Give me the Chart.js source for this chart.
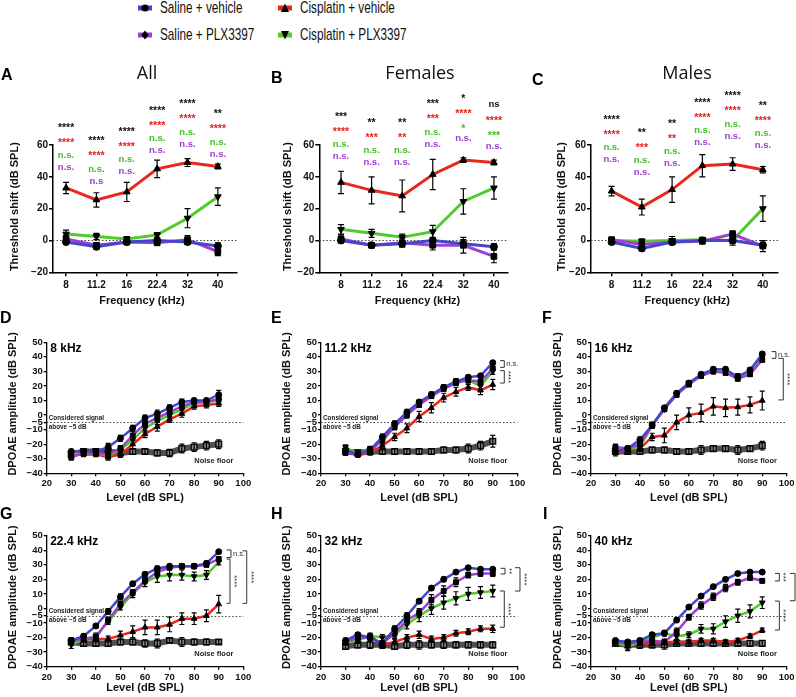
<!DOCTYPE html>
<html lang="en">
<head>
<meta charset="UTF-8">
<title>Threshold shift and DPOAE amplitude</title>
<script src="https://cdn.jsdelivr.net/npm/chart.js"></script>
<style>
  body { margin: 0; background: #fff; width: 796px; height: 697px; position: relative; overflow: hidden;
         font-family: "Liberation Sans", Arial, sans-serif; }
  canvas { position: absolute; }
  .lg-mark { position: absolute; width: 16px; height: 16px; }
  .lg-text { position: absolute; font-size: 17px; line-height: 20px; white-space: nowrap; color: #111;
             transform: scaleX(0.69); transform-origin: left center; }
</style>
</head>
<body>
<svg class="lg-mark" style="left:137px; top:0px" viewBox="0 0 16 16"><rect x="1" y="5.5" width="14" height="5" fill="#4348c8"/><circle cx="8" cy="8" r="3.6" fill="#000"/></svg>
<div class="lg-text" style="left:160px; top:-2px">Saline + vehicle</div>
<svg class="lg-mark" style="left:137px; top:27px" viewBox="0 0 16 16"><rect x="1" y="5.5" width="14" height="5" fill="#a03fd4"/><polygon points="8,3.5 11.6,8 8,12.5 4.4,8" fill="#000"/></svg>
<div class="lg-text" style="left:160px; top:25px">Saline + PLX3397</div>
<svg class="lg-mark" style="left:277px; top:0px" viewBox="0 0 16 16"><rect x="1" y="5.5" width="14" height="5" fill="#e8281c"/><polygon points="8,3.5 12,12 4,12" fill="#000"/></svg>
<div class="lg-text" style="left:300px; top:-2px">Cisplatin + vehicle</div>
<svg class="lg-mark" style="left:277px; top:27px" viewBox="0 0 16 16"><rect x="1" y="5.5" width="14" height="5" fill="#4fcc2c"/><polygon points="4,4 12,4 8,12.5" fill="#000"/></svg>
<div class="lg-text" style="left:300px; top:25px">Cisplatin + PLX3397</div>

<script>
// ---------- threshold shift (A-C) ----------
const freqLabels = ['8', '11.2', '16', '22.4', '32', '40'];

const allSalVeh    = [-1, -4, -1, 0, -1, -3.5];
const allSalVehErr = [1.5, 1.5, 1.5, 1.5, 1.5, 2];
const allSalPlx    = [1, -3, -1, -1.5, 0.5, -7];
const allSalPlxErr = [2, 1.5, 1.5, 1.5, 2.5, 2.5];
const allCisVeh    = [33, 25.5, 30.5, 45, 49, 46.5];
const allCisVehErr = [3.5, 4.5, 6, 5.5, 2.5, 1.5];
const allCisPlx    = [4, 2.5, 1, 3.5, 14, 27.5];
const allCisPlxErr = [2.5, 2, 1.5, 1.5, 6, 5.5];

const femSalVeh    = [0, -3, -2, 0, -2, -4];
const femSalVehErr = [1.5, 1.5, 2, 2, 2.5, 2];
const femSalPlx    = [1, -3, -1.5, -3, -3, -10];
const femSalPlxErr = [2.5, 1.5, 2.5, 3, 5, 4];
const femCisVeh    = [36.5, 31.5, 28, 41.5, 50.5, 49];
const femCisVehErr = [7, 8.5, 10, 9.5, 1.5, 1.5];
const femCisPlx    = [7, 4.5, 2, 5.5, 24.5, 33];
const femCisPlxErr = [3, 2.5, 2, 4, 8, 7];

const maleSalVeh    = [-1, -5, -1, 0, 0, -3];
const maleSalVehErr = [1.5, 1.5, 1.5, 1.5, 2, 2];
const maleSalPlx    = [0.5, -2.5, -1, -0.5, 4, -3.5];
const maleSalPlxErr = [1.5, 2, 1.5, 1.5, 2, 3.5];
const maleCisVeh    = [31, 21, 32, 47, 48, 44.5];
const maleCisVehErr = [3, 5, 8, 7, 4, 2];
const maleCisPlx    = [0, -0.5, 0, 0.5, 0, 20];
const maleCisPlxErr = [1.5, 1.5, 2.5, 1.5, 3, 8];

// significance labels (height of the lowest label, in dB)
const allSigY      = [45.7, 37.4, 43.2, 56.4, 60.6, 54.3];
const allSigBlack  = ['****', '****', '****', '****', '****', '**'];
const allSigRed    = ['****', '****', '****', '****', '****', '****'];
const allSigGreen  = ['n.s.', 'n.s.', 'n.s.', 'n.s.', 'n.s.', 'n.s.'];
const allSigPurple = ['n.s.', 'n.s', 'n.s.', 'n.s.', 'n.s.', 'n.s.'];

const femSigY      = [52.7, 49, 49, 60.6, 64.2, 59.4];
const femSigBlack  = ['***', '**', '**', '***', '*', 'ns'];
const femSigRed    = ['****', '***', '**', '***', '****', '****'];
const femSigGreen  = ['n.s.', 'n.s.', 'n.s.', 'n.s.', '*', '***'];
const femSigPurple = ['n.s.', 'n.s.', 'n.s.', 'n.s.', 'n.s.', 'n.s.'];

const maleSigY      = [51, 42.9, 48.5, 61.5, 65.6, 59.6];
const maleSigBlack  = ['****', '**', '**', '****', '****', '**'];
const maleSigRed    = ['****', '***', '**', '****', '****', '****'];
const maleSigGreen  = ['n.s.', 'n.s.', 'n.s.', 'n.s.', 'n.s.', 'n.s.'];
const maleSigPurple = ['n.s.', 'n.s.', 'n.s.', 'n.s.', 'n.s.', 'n.s.'];

// ---------- DPOAE (D-I) ----------
const levels = [30, 35, 40, 45, 50, 55, 60, 65, 70, 75, 80, 85, 90];

const k8SalVeh = [-25, -25, -25, -22, -16, -9, -2, 1, 5, 9, 10, 10, 14];
const k8SalPlx = [-29, -26, -26, -27, -23, -14, -6, -2, 2, 6, 9, 9, 11];
const k8CisPlx = [-26, -26, -26, -28, -24, -17, -9, -4, 0, 4, 8, 9, 10];
const k8CisVeh = [-27, -27, -27, -29, -27, -20, -13, -8, -3, 1, 6, 7, 8];
const k8Noise  = [-27, -25, -25, -25, -26, -25, -25, -26, -26, -23, -22, -21, -20];
const k8SalVehErr = [1.5, 1.5, 1.5, 2.5, 2, 2, 2, 2.5, 2, 2, 1.5, 1.5, 3];
const k8SalPlxErr = [2, 1.5, 1.5, 2, 2, 3, 2.5, 2.5, 2, 2, 1.5, 1.5, 2];
const k8CisPlxErr = [1.5, 1.5, 1.5, 2, 2, 3, 2.5, 2.5, 2, 2.5, 2, 2, 2];
const k8CisVehErr = [1.5, 1.5, 1.5, 2, 2, 3, 2.5, 3, 2, 2.5, 2, 2, 2];
const k8NoiseErr  = [2, 1.5, 1.5, 2, 2, 2, 2, 2, 2.5, 3, 3, 3, 3];

const k11SalVeh = [-24, -27, -24, -15, -6, 2, 9, 14, 19, 23, 26, 27, 36];
const k11SalPlx = [-26, -27, -25, -17, -8, 0, 7, 13, 18, 22, 24, 23, 32];
const k11CisPlx = [-22, -27, -23, -18, -8, 0, 8, 14, 19, 23, 24, 20, 30];
const k11CisVeh = [-25, -27, -26, -21, -15, -9, -1, 5, 12, 16, 19, 17, 21];
const k11Noise  = [-25, -26, -25, -25, -25, -25, -25, -25, -24, -24, -23, -21, -18];
const k11SalVehErr = [1.5, 1.5, 1.5, 2, 2, 2, 1.5, 1.5, 1.5, 1.5, 1.5, 1, 1];
const k11SalPlxErr = [1.5, 1.5, 1.5, 2, 2, 2, 1.5, 1.5, 1.5, 1.5, 1.5, 1.5, 1.5];
const k11CisPlxErr = [1.5, 1.5, 1.5, 2, 2, 2, 2, 2, 2, 2, 2, 2, 2];
const k11CisVehErr = [1.5, 1.5, 1.5, 3, 2.5, 3, 3.5, 3.5, 3, 3, 2, 3, 3.5];
const k11NoiseErr  = [2, 2, 2, 2, 2, 2, 2, 2, 2, 2, 3, 3, 4];

const k16SalVeh = [-25, -23, -17, -7, 5, 15, 22, 28, 31.5, 31.5, 26, 31, 42];
const k16SalPlx = [-22, -23, -20, -7, 4, 14, 21, 27, 30, 29, 25, 28, 38];
const k16CisPlx = [-23, -23, -22, -7, 4, 14, 22, 27, 30, 30, 27, 30, 40];
const k16CisVeh = [-26, -24, -23, -15, -14, -5, 0, 1.5, 6, 5, 5.5, 7, 10];
const k16Noise  = [-25, -25, -25, -24, -24, -25, -25, -24, -23, -23, -24, -23, -21];
const k16SalVehErr = [2, 1.5, 2, 2, 1.5, 1.5, 1.5, 1.5, 1.5, 1.5, 1.5, 1.5, 1.5];
const k16SalPlxErr = [2, 1.5, 2, 2, 1.5, 1.5, 1.5, 1.5, 1.5, 1.5, 1.5, 1.5, 1.5];
const k16CisPlxErr = [2, 1.5, 2, 2, 1.5, 1.5, 1.5, 1.5, 1.5, 1.5, 1.5, 1.5, 1.5];
const k16CisVehErr = [2, 2, 2, 2.5, 5, 5, 5, 6, 6, 6, 5.5, 5.5, 6.5];
const k16NoiseErr  = [2, 2, 2, 2, 2, 2, 2, 3, 2, 2, 3, 2, 3];

const k22SalVeh = [-22, -19, -12, -2, 8, 17, 23.5, 27.5, 29, 29, 29, 31, 39];
const k22SalPlx = [-22, -21, -20, -8, 3, 11, 19, 25, 28, 29, 29, 30, 34];
const k22CisPlx = [-25, -21, -19, -9, 1, 10, 18, 22, 23, 23, 22, 23, 32];
const k22CisVeh = [-23, -21, -21, -21, -18.5, -16, -13, -13, -11, -7, -7, -5, 3];
const k22Noise  = [-23, -24, -24, -24, -23, -23, -24, -24, -22, -23, -23, -23, -23];
const k22SalVehErr = [2, 1.5, 1.5, 2, 2, 1.5, 1.5, 1.5, 1.5, 1.5, 1.5, 1.5, 1];
const k22SalPlxErr = [2, 2, 2, 2, 2, 2, 2, 2, 1.5, 1.5, 1.5, 1.5, 1.5];
const k22CisPlxErr = [2.5, 2, 2, 2, 2, 2.5, 3, 4, 4, 3.5, 3, 3, 2];
const k22CisVehErr = [2, 2, 2, 2, 3, 4, 5, 5, 5, 4, 4, 4, 6];
const k22NoiseErr  = [2, 2, 2, 2, 2, 2, 2.5, 3, 1.5, 3, 2, 2, 1.5];

const k32SalVeh = [-22, -18, -20, -24, -14, -5, 5, 14, 20, 25, 28, 27, 27];
const k32SalPlx = [-23, -20, -20, -24, -17, -8, -3, 6, 12, 18, 23, 24, 24];
const k32CisPlx = [-23, -22, -19, -20, -18, -11, -5, 0, 4, 7, 10, 11, 12];
const k32CisVeh = [-22, -21, -19, -25, -23, -20, -18, -21, -20, -17, -16, -14, -14];
const k32Noise  = [-26, -25, -25, -25, -26, -25, -25, -25, -25, -25, -25, -25, -25];
const k32SalVehErr = [1.5, 1.5, 1.5, 2, 2, 2, 1.5, 1.5, 1.5, 1, 1, 1, 1];
const k32SalPlxErr = [2, 2, 2, 2, 2.5, 3, 3, 3.5, 3.5, 3, 2, 2, 2];
const k32CisPlxErr = [2, 2, 2, 2, 2.5, 3, 4, 4, 4.5, 4.5, 4.5, 4, 4];
const k32CisVehErr = [1.5, 1.5, 1.5, 2, 2, 2, 2.5, 2, 2, 2, 2, 2, 2.5];
const k32NoiseErr  = [2, 2, 2.5, 2.5, 2, 2.5, 3, 2, 2.5, 2, 2, 2, 2];

const k40SalVeh = [-22, -23, -22, -18, -17, -8, 1, 8.5, 15, 20, 24, 25, 25];
const k40SalPlx = [-23, -24, -23, -22, -23, -16, -6, 2, 8, 14, 18, 21, 19];
const k40CisPlx = [-23, -26, -23, -20, -17, -19, -18, -14, -14, -9, -5, -2, 4];
const k40CisVeh = [-23, -24, -24, -24, -23, -23, -23, -22, -22, -23, -22, -19, -15];
const k40Noise  = [-24, -25, -25, -25, -25, -24, -24, -24, -24, -24, -24, -24, -24];
const k40SalVehErr = [1.5, 1.5, 1.5, 1.5, 1.5, 1.5, 1, 1, 1, 1, 1, 1, 1];
const k40SalPlxErr = [1.5, 2, 2, 2, 2, 2.5, 2, 2.5, 2.5, 2.5, 2, 1.5, 1.5];
const k40CisPlxErr = [2, 3, 2, 2, 2, 2, 2, 3, 3.5, 4, 4.5, 4.5, 4];
const k40CisVehErr = [1.5, 1.5, 1.5, 1.5, 1.5, 1.5, 1.5, 1.5, 1.5, 1.5, 1.5, 1.5, 1.5];
const k40NoiseErr  = [2, 3, 2.5, 2, 3, 2, 2, 2, 2, 2, 2, 2, 2];

// comparison brackets at 90 dB: x / tick x in dB SPL, y1..y2 in dB
const k11Brackets = [
  { x: 94.7, xl: 93, y1: 37.4, y2: 32.8, label: 'n.s.', rot: false },
  { x: 94.7, xl: 93, y1: 30.5, y2: 22, label: '****', rot: true }
];
const k16Brackets = [
  { x: 95.6, xl: 93.8, y1: 43.6, y2: 39, label: 'n.s.', rot: false },
  { x: 98.6, xl: 96.6, y1: 39, y2: 10.4, label: '****', rot: true }
];
const k22Brackets = [
  { x: 95, xl: 93.2, y1: 40.2, y2: 35, label: 'n.s.', rot: false },
  { x: 94.6, xl: 93.2, y1: 34, y2: 3.5, label: '****', rot: true },
  { x: 101.4, xl: 99.7, y1: 39.6, y2: 3.5, label: '****', rot: true }
];
const k32Brackets = [
  { x: 95, xl: 93.2, y1: 27.6, y2: 23.7, label: '**', rot: true },
  { x: 101.1, xl: 99.1, y1: 28, y2: 12, label: '****', rot: true },
  { x: 94.7, xl: 92.9, y1: 12, y2: -12.9, label: '****', rot: true }
];
const k40Brackets = [
  { x: 97, xl: 95.2, y1: 24.1, y2: 18.9, label: '***', rot: true },
  { x: 103.4, xl: 101.3, y1: 24.1, y2: 5.3, label: '****', rot: true },
  { x: 97, xl: 95.2, y1: 5.1, y2: -14.8, label: '****', rot: true }
];

// ---------- styling ----------
const C_BLUE = '#4348c8', C_PURPLE = '#a03fd4', C_RED = '#e8281c', C_GREEN = '#4fcc2c', C_NOISE = '#505050';
const T_RED = '#e3221c', T_GREEN = '#3fbf22', T_PURPLE = '#9a3ed2';
const FAM = '"Liberation Sans", Arial, sans-serif';
const font = (w, s, fam) => `${w} ${s}px ${fam || FAM}`;

Chart.defaults.font.family = FAM;
Chart.defaults.color = '#111';

const groupStyle = [
  { color: C_BLUE, style: 'circle', rot: 0, r: 1 },
  { color: C_PURPLE, style: 'rect', rot: 0, r: 1.15 },
  { color: C_GREEN, style: 'triangle', rot: 180, r: 1.1 },
  { color: C_RED, style: 'triangle', rot: 0, r: 1.1 }
];

function txt(ctx, s, x, y, f, color, align, rot) {
  ctx.save();
  ctx.translate(x, y);
  if (rot) ctx.rotate(rot);
  ctx.font = f; ctx.fillStyle = color; ctx.textAlign = align || 'center'; ctx.textBaseline = 'middle';
  ctx.fillText(s, 0, 0);
  ctx.restore();
}

const decor = {
  id: 'decor',
  beforeDatasetsDraw(chart) {
    const p = chart.canvas.panel; if (!p) return;
    const { ctx, chartArea: a, scales: { y } } = chart;
    const yy = Math.round(y.getPixelForValue(p.refLine)) + 0.5;
    ctx.save();
    ctx.strokeStyle = '#444'; ctx.lineWidth = 1; ctx.setLineDash([1.5, 2]);
    ctx.beginPath(); ctx.moveTo(a.left, yy); ctx.lineTo(a.right, yy); ctx.stroke();
    ctx.restore();
  },
  afterDatasetsDraw(chart) {
    const p = chart.canvas.panel; if (!p) return;
    const { ctx, scales: { y } } = chart;
    ctx.save();
    ctx.strokeStyle = '#000'; ctx.lineWidth = 1.2;
    chart.data.datasets.forEach((ds, i) => {
      const meta = chart.getDatasetMeta(i);
      meta.data.forEach((pt, j) => {
        const e = ds.errors[j]; if (!e) return;
        const v = ds.data[j].y;
        const y1 = y.getPixelForValue(v + e), y2 = y.getPixelForValue(v - e);
        ctx.beginPath();
        ctx.moveTo(pt.x, y1); ctx.lineTo(pt.x, y2);
        ctx.moveTo(pt.x - p.cap, y1); ctx.lineTo(pt.x + p.cap, y1);
        ctx.moveTo(pt.x - p.cap, y2); ctx.lineTo(pt.x + p.cap, y2);
        ctx.stroke();
      });
    });
    ctx.restore();
  },
  afterDraw(chart) {
    const p = chart.canvas.panel; if (!p) return;
    const { ctx, chartArea: a, scales: { x, y } } = chart;
    const bx = p.box.x, by = p.box.y;
    // panel letter and axis titles (page coordinates)
    txt(ctx, p.letter.t, p.letter.x - bx, p.letter.y - by, font('bold', 16), '#000', 'left');
    txt(ctx, p.yTitle, p.yTitleX - bx, (a.top + a.bottom) / 2 - p.yTitleLift, font('bold', 11), '#111', 'center', -Math.PI / 2);
    txt(ctx, p.xTitle, p.xTitleCx(x, a), p.xTitleY - by, font('bold', 11), '#111', 'center');
    if (p.title) txt(ctx, p.title.t, p.title.x - bx, p.title.y - by, font('normal', 18, '"Open Sans", sans-serif'), '#111', 'center');
    if (p.sig) {
      const offs = [0, -12, -27, -42];
      const cols = [T_PURPLE, T_GREEN, T_RED, '#111'];
      p.sig.rows.forEach((row, r) => row.forEach((s, i) => {
        const px = x.getPixelForValue(i);
        const py = y.getPixelForValue(p.sig.y[i]) + offs[r];
        const star = s.indexOf('*') >= 0;
        txt(ctx, s, px, star ? py + 2.5 : py, star ? font('bold', 10.5) : font('bold', 9.5), cols[r], 'center');
      }));
    }
    if (p.sub) {
      txt(ctx, p.sub, a.left + 3.5, a.top + 6, font('bold', 12), '#000', 'left');
      const ly = y.getPixelForValue(-5);
      txt(ctx, 'Considered signal', a.left + 2, ly - 4.3, font('bold', 6.4), '#222', 'left');
      txt(ctx, 'above \u22125 dB', a.left + 2, ly + 4.6, font('bold', 6.4), '#222', 'left');
      txt(ctx, 'Noise floor', x.getPixelForValue(88), y.getPixelForValue(-31.4), font('bold', 7.5), '#222', 'center');
      ctx.save();
      ctx.strokeStyle = '#333'; ctx.lineWidth = 1;
      p.brackets.forEach(b => {
        const bxp = x.getPixelForValue(b.x), xl = x.getPixelForValue(b.xl);
        const y1 = y.getPixelForValue(b.y1), y2 = y.getPixelForValue(b.y2);
        ctx.beginPath();
        ctx.moveTo(xl, y1); ctx.lineTo(bxp, y1); ctx.lineTo(bxp, y2); ctx.lineTo(xl, y2);
        ctx.stroke();
        if (b.rot) txt(ctx, b.label, bxp + 4, (y1 + y2) / 2, font('normal', 8), '#333', 'center', Math.PI / 2);
        else txt(ctx, b.label, bxp + 2, (y1 + y2) / 2, font('normal', 7.5), '#333', 'left');
      });
      ctx.restore();
    }
  }
};
Chart.register(decor);

function buildPanel(p) {
  const c = document.createElement('canvas');
  c.width = p.box.w; c.height = p.box.h;
  c.style.left = p.box.x + 'px'; c.style.top = p.box.y + 'px';
  c.style.width = p.box.w + 'px'; c.style.height = p.box.h + 'px';
  document.body.appendChild(c);
  c.panel = p;

  const datasets = p.series.map((s, i) => {
    const g = groupStyle[i];
    return {
      data: s[0].map((v, j) => ({ x: p.xs[j], y: v })),
      errors: s[1],
      borderColor: g.color, borderWidth: p.lineW,
      pointStyle: g.style, pointRotation: g.rot, pointRadius: p.ptR * g.r,
      pointBackgroundColor: '#000', pointBorderColor: '#000', pointBorderWidth: 1,
      tension: 0, fill: false
    };
  });
  if (p.noise) {
    datasets.push({
      data: p.noise[0].map((v, j) => ({ x: p.xs[j], y: v })),
      errors: p.noise[1],
      borderColor: C_NOISE, borderWidth: 6,
      pointStyle: 'rect', pointRadius: 4,
      pointBackgroundColor: '#8c8c8c', pointBorderColor: '#111', pointBorderWidth: 1.5,
      tension: 0, fill: false
    });
  }

  const a = p.area, b = p.box;
  new Chart(c, {
    type: 'line',
    data: { datasets },
    options: {
      responsive: false, animation: false, events: [],
      layout: { padding: { left: 0, top: a.t - b.y, right: b.x + b.w - a.r, bottom: b.y + b.h - a.b - p.xH } },
      plugins: { legend: { display: false }, tooltip: { enabled: false } },
      scales: {
        x: {
          type: 'linear', min: p.xmin, max: p.xmax,
          afterBuildTicks: s => { s.ticks = p.xTicks.map(v => ({ value: v })); },
          afterFit: s => { s.height = p.xH; s.paddingLeft = 0; s.paddingRight = 0; },
          grid: { display: true, drawOnChartArea: false, drawTicks: true, tickLength: p.tickL, color: '#000', lineWidth: p.axisW },
          border: { display: true, color: '#000', width: p.axisW },
          ticks: { font: { size: p.tickF, weight: 'bold' }, color: '#111', padding: p.xPad, maxRotation: 0, autoSkip: false,
                   callback: p.xLabel }
        },
        y: {
          type: 'linear', min: p.ymin, max: p.ymax,
          afterBuildTicks: s => { s.ticks = p.yTicks.map(v => ({ value: v })); },
          afterFit: s => { s.width = a.l - b.x; s.paddingTop = 0; s.paddingBottom = 0; },
          grid: { display: true, drawOnChartArea: false, drawTicks: true, tickLength: p.tickL, color: '#000', lineWidth: p.axisW },
          border: { display: true, color: '#000', width: p.axisW },
          ticks: { font: { size: p.tickF, weight: 'bold' }, color: '#111', padding: 1, autoSkip: false,
                   callback: v => v < 0 ? '\u2212' + (-v) : '' + v }
        }
      }
    }
  });
}

const topCommon = {
  xs: [0, 1, 2, 3, 4, 5], xTicks: [0, 1, 2, 3, 4, 5], xLabel: v => freqLabels[v],
  ymin: -20, ymax: 60, yTicks: [-20, 0, 20, 40, 60], refLine: 0,
  xH: 30, tickL: 4, xPad: 3, tickF: 10, axisW: 1.5, lineW: 3, ptR: 3.5, cap: 3,
  yTitle: 'Threshold shift (dB SPL)', yTitleLift: 2, xTitle: 'Frequency (kHz)', xTitleY: 300.7,
  xTitleCx: (x) => x.getPixelForValue(2.5)
};

const topPanels = [
  { box: { x: 0, y: 60, w: 265, h: 250 }, area: { l: 53, t: 145, r: 237, b: 272.3 }, xmin: -0.43, xmax: 5.63,
    letter: { t: 'A', x: 1, y: 76 }, title: { t: 'All', x: 147, y: 74 }, yTitleX: 14.7,
    series: [[allSalVeh, allSalVehErr], [allSalPlx, allSalPlxErr], [allCisPlx, allCisPlxErr], [allCisVeh, allCisVehErr]],
    sig: { y: allSigY, rows: [allSigPurple, allSigGreen, allSigRed, allSigBlack] } },
  { box: { x: 265, y: 60, w: 265, h: 250 }, area: { l: 319.3, t: 145, r: 508, b: 272.3 }, xmin: -0.71, xmax: 5.46,
    letter: { t: 'B', x: 271, y: 79 }, title: { t: 'Females', x: 420, y: 74 }, yTitleX: 288.3,
    series: [[femSalVeh, femSalVehErr], [femSalPlx, femSalPlxErr], [femCisPlx, femCisPlxErr], [femCisVeh, femCisVehErr]],
    sig: { y: femSigY, rows: [femSigPurple, femSigGreen, femSigRed, femSigBlack] } },
  { box: { x: 530, y: 60, w: 266, h: 250 }, area: { l: 591, t: 145, r: 778, b: 272.3 }, xmin: -0.68, xmax: 5.5,
    letter: { t: 'C', x: 532, y: 80.5 }, title: { t: 'Males', x: 687, y: 74 }, yTitleX: 561.7,
    series: [[maleSalVeh, maleSalVehErr], [maleSalPlx, maleSalPlxErr], [maleCisPlx, maleCisPlxErr], [maleCisVeh, maleCisVehErr]],
    sig: { y: maleSigY, rows: [maleSigPurple, maleSigGreen, maleSigRed, maleSigBlack] } }
];

const botCommon = {
  xs: levels, xTicks: [20, 30, 40, 50, 60, 70, 80, 90, 100], xLabel: v => '' + v,
  xmin: 20, xmax: 100, ymin: -40, ymax: 50, yTicks: [-40, -30, -20, -10, -5, 0, 10, 20, 30, 40, 50], refLine: -5,
  xH: 20, tickL: 3, xPad: 1.5, tickF: 9.5, axisW: 1.3, lineW: 2.5, ptR: 3, cap: 2.5,
  yTitle: 'DPOAE amplitude (dB SPL)', yTitleLift: 4, xTitle: 'Level (dB SPL)',
  xTitleCx: (x, a) => (a.left + a.right) / 2
};

const botPanels = [
  { box: { x: 0, y: 305, w: 265, h: 200 }, area: { l: 46.7, t: 342.3, r: 243.3, b: 473.3 }, letter: { t: 'D', x: 0, y: 319 },
    sub: '8 kHz', yTitleX: 12.8, xTitleY: 497.5, brackets: [],
    series: [[k8SalVeh, k8SalVehErr], [k8SalPlx, k8SalPlxErr], [k8CisPlx, k8CisPlxErr], [k8CisVeh, k8CisVehErr]], noise: [k8Noise, k8NoiseErr] },
  { box: { x: 265, y: 305, w: 265, h: 200 }, area: { l: 321, t: 342.3, r: 517.3, b: 473.3 }, letter: { t: 'E', x: 271, y: 319 },
    sub: '11.2 kHz', yTitleX: 287, xTitleY: 497.5, brackets: k11Brackets,
    series: [[k11SalVeh, k11SalVehErr], [k11SalPlx, k11SalPlxErr], [k11CisPlx, k11CisPlxErr], [k11CisVeh, k11CisVehErr]], noise: [k11Noise, k11NoiseErr] },
  { box: { x: 530, y: 305, w: 266, h: 200 }, area: { l: 591, t: 342.3, r: 786.7, b: 473.3 }, letter: { t: 'F', x: 542, y: 319 },
    sub: '16 kHz', yTitleX: 558, xTitleY: 497.5, brackets: k16Brackets,
    series: [[k16SalVeh, k16SalVehErr], [k16SalPlx, k16SalPlxErr], [k16CisPlx, k16CisPlxErr], [k16CisVeh, k16CisVehErr]], noise: [k16Noise, k16NoiseErr] },
  { box: { x: 0, y: 500, w: 265, h: 197 }, area: { l: 46.7, t: 535.7, r: 243.3, b: 666.7 }, letter: { t: 'G', x: 0, y: 515 },
    sub: '22.4 kHz', yTitleX: 12.8, xTitleY: 687.7, brackets: k22Brackets,
    series: [[k22SalVeh, k22SalVehErr], [k22SalPlx, k22SalPlxErr], [k22CisPlx, k22CisPlxErr], [k22CisVeh, k22CisVehErr]], noise: [k22Noise, k22NoiseErr] },
  { box: { x: 265, y: 500, w: 265, h: 197 }, area: { l: 321, t: 535.7, r: 517.3, b: 666.7 }, letter: { t: 'H', x: 271, y: 515 },
    sub: '32 kHz', yTitleX: 287, xTitleY: 687.7, brackets: k32Brackets,
    series: [[k32SalVeh, k32SalVehErr], [k32SalPlx, k32SalPlxErr], [k32CisPlx, k32CisPlxErr], [k32CisVeh, k32CisVehErr]], noise: [k32Noise, k32NoiseErr] },
  { box: { x: 530, y: 500, w: 266, h: 197 }, area: { l: 591, t: 535.7, r: 786.7, b: 666.7 }, letter: { t: 'I', x: 543, y: 515 },
    sub: '40 kHz', yTitleX: 558, xTitleY: 687.7, brackets: k40Brackets,
    series: [[k40SalVeh, k40SalVehErr], [k40SalPlx, k40SalPlxErr], [k40CisPlx, k40CisPlxErr], [k40CisVeh, k40CisVehErr]], noise: [k40Noise, k40NoiseErr] }
];

topPanels.forEach(p => buildPanel(Object.assign({}, topCommon, p)));
botPanels.forEach(p => buildPanel(Object.assign({}, botCommon, p)));
</script>
</body>
</html>
